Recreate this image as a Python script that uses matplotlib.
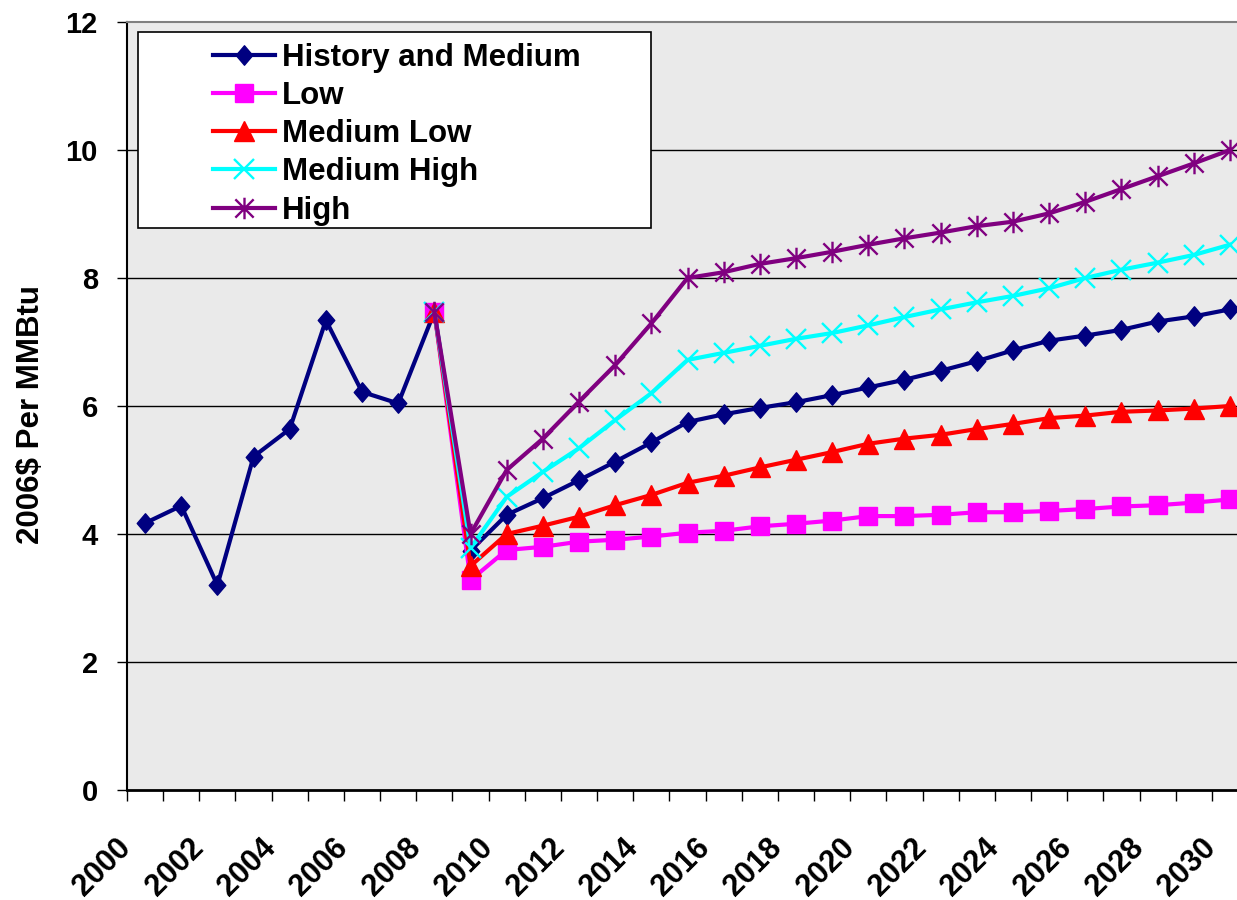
import numpy as np
import matplotlib
matplotlib.use("Agg")
import matplotlib.pyplot as plt
import matplotlib.transforms as mtransforms
from matplotlib.path import Path
from matplotlib.patches import Rectangle

plt.rcParams['font.family'] = ['Liberation Sans', 'DejaVu Sans']
plt.rcParams['font.weight'] = 'bold'

nan = np.nan
years = list(range(2000, 2031))

history_medium = [4.17, 4.44, 3.20, 5.21, 5.64, 7.34, 6.22, 6.04, 7.47, 3.74,
                  4.30, 4.56, 4.84, 5.13, 5.43, 5.75, 5.87, 5.97, 6.06, 6.17,
                  6.29, 6.41, 6.55, 6.70, 6.87, 7.02, 7.10, 7.19, 7.32, 7.40, 7.51]
low = [nan] * 8 + [7.47, 3.28, 3.75, 3.80, 3.88, 3.91, 3.96, 4.02,
                   4.05, 4.12, 4.16, 4.21, 4.28, 4.28, 4.30, 4.34, 4.34, 4.36,
                   4.39, 4.43, 4.45, 4.49, 4.54]
medium_low = [nan] * 8 + [7.47, 3.50, 4.00, 4.13, 4.27, 4.45, 4.61, 4.80,
                          4.91, 5.04, 5.16, 5.28, 5.41, 5.49, 5.55, 5.64, 5.72,
                          5.81, 5.85, 5.91, 5.93, 5.96, 6.00]
medium_high = [nan] * 8 + [7.47, 3.78, 4.58, 4.97, 5.34, 5.78, 6.20, 6.72,
                           6.83, 6.94, 7.05, 7.14, 7.26, 7.39, 7.51, 7.62, 7.72,
                           7.84, 8.00, 8.13, 8.24, 8.36, 8.52]
high = [nan] * 8 + [7.47, 4.00, 5.00, 5.49, 6.07, 6.64, 7.29, 8.00,
                    8.09, 8.22, 8.31, 8.41, 8.52, 8.62, 8.71, 8.81, 8.88,
                    9.01, 9.19, 9.39, 9.59, 9.79, 10.00]

series_names = ['History and Medium', 'Low', 'Medium Low', 'Medium High', 'High']

# excel style asterisk: vertical bar plus an x
asterisk = Path([(0, -1), (0, 1), (-0.85, -0.85), (0.85, 0.85), (-0.85, 0.85), (0.85, -0.85)],
                [Path.MOVETO, Path.LINETO] * 3)
# excel diamond is a bit taller than wide
diamond = Path([(0, 1), (0.85, 0), (0, -1), (-0.85, 0), (0, 1)],
               [Path.MOVETO, Path.LINETO, Path.LINETO, Path.LINETO, Path.CLOSEPOLY])

styles = [
    dict(color='#000080', marker=diamond, ms=14, mew=1),
    dict(color='#FF00FF', marker='s', ms=13.5, mew=1),
    dict(color='#FF0000', marker='^', ms=15, mew=1),
    dict(color='#00FFFF', marker='x', ms=15, mew=1.7),
    dict(color='#800080', marker=asterisk, ms=15.5, mew=1.7),
]

fig = plt.figure(figsize=(12.37, 9), dpi=100)
# right edge runs past the picture, like the cropped original
ax = fig.add_axes([127 / 1237, 1 - 790 / 900, (1248 - 127) / 1237, (790 - 22) / 900])
ax.set_facecolor('#EAEAEA')

x = np.arange(len(years))
lines = []
for name, vals, st in zip(series_names,
                          [history_medium, low, medium_low, medium_high, high],
                          styles):
    ln, = ax.plot(x, vals, color=st['color'], lw=3, marker=st['marker'],
                  ms=st['ms'], mew=st['mew'], mec=st['color'], mfc=st['color'],
                  label=name, zorder=3, clip_on=False)
    lines.append(ln)

ax.set_xlim(-0.5, len(years) - 0.5)
ax.set_ylim(0, 12)
ax.set_yticks(np.arange(0, 13, 2))
for yv in ax.get_yticks()[1:-1]:
    ax.axhline(yv, color='black', lw=1, zorder=1)

ax.set_xticks(x[::2])
ax.set_xticklabels([str(y) for y in years[::2]])
ax.set_xticks(np.arange(-0.5, len(years), 1), minor=True)
ax.tick_params(axis='x', which='major', length=0, pad=31, labelsize=22)
ax.tick_params(axis='x', which='minor', length=8, width=1, direction='out')
ax.tick_params(axis='y', length=7, width=1, direction='out', pad=14, labelsize=21)

offset = mtransforms.ScaledTranslation(-29 / 100, 0, fig.dpi_scale_trans)
for lab in ax.get_xticklabels():
    lab.set_rotation(45)
    lab.set_ha('right')
    lab.set_va('top')
    lab.set_rotation_mode('anchor')
    lab.set_transform(lab.get_transform() + offset)

ax.set_ylabel('2006$ Per MMBtu', fontsize=22.5, fontweight='bold')
ax.yaxis.set_label_coords(-0.0723, 0.489)

ax.spines['top'].set_color('#808080')
ax.spines['top'].set_linewidth(1.5)
ax.spines['right'].set_visible(False)
ax.spines['left'].set_linewidth(1.5)
ax.spines['bottom'].set_linewidth(2)

ax.add_patch(Rectangle((0.0098, 0.7318), 0.458, 0.255, transform=ax.transAxes,
                       facecolor='white', edgecolor='black', lw=1.2, zorder=5))
leg = ax.legend(handles=lines, loc='upper left',
                bbox_to_anchor=(213 / 1237, 1 - 43 / 900), bbox_transform=fig.transFigure,
                frameon=False, borderpad=0, borderaxespad=0, handlelength=1.98,
                handletextpad=0.24, labelspacing=0.26, numpoints=1,
                prop=dict(family='Liberation Sans', weight='bold', size=22.5))
leg.set_zorder(6)

fig.savefig('out.png', dpi=100)
